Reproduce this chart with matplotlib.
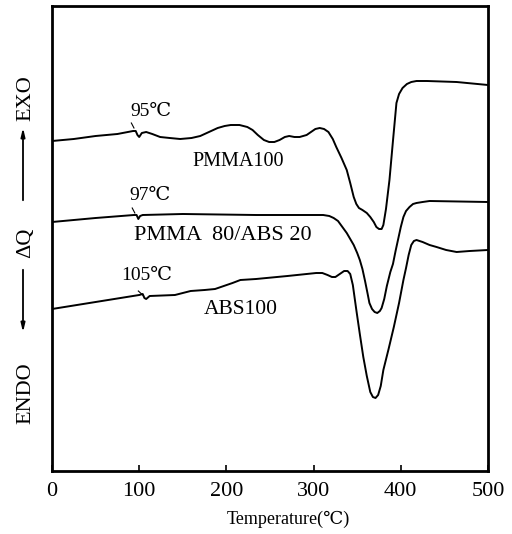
import matplotlib
matplotlib.use("Agg")
import matplotlib.pyplot as plt

plt.rcParams['font.family'] = ['Liberation Serif', 'DejaVu Serif', 'DejaVu Sans']

# heat flow traces (arbitrary units)
pmma_t = [0, 25, 50, 75, 93, 96, 98, 100, 103, 108, 115, 124, 135, 147, 160, 170, 180,
          190, 198, 205, 215, 224, 230, 236, 243, 249, 255, 261, 267, 272, 278, 284,
          288, 292, 297, 302, 307, 312, 317, 322, 326, 332, 338, 342, 346, 349, 352,
          356, 361, 365, 369, 372, 375, 378, 380, 383, 387, 391, 395, 398, 402, 407,
          412, 418, 430, 464, 500]
pmma_q = [330, 332, 335, 337, 340, 340, 336, 334, 338, 339, 337, 334, 333, 332, 333, 335, 339,
          343, 345, 346, 346, 344, 341, 336, 331, 329, 329, 331, 334, 335, 334, 334,
          335, 336, 339, 342, 343, 342, 339, 332, 324, 313, 301, 288, 274, 267, 263,
          261, 258, 254, 249, 244, 242, 242, 246, 262, 291, 330, 368, 377, 383, 387,
          389, 390, 390, 389, 386]

blend_t = [0, 50, 94, 97, 99, 101, 104, 150, 234, 300, 311, 318, 323, 328, 333, 338,
           342, 346, 350, 353, 356, 359, 362, 364, 367, 370, 373, 376, 378, 381, 384,
           388, 391, 394, 397, 400, 403, 406, 410, 414, 418, 425, 433, 500]
blend_q = [249, 253, 256, 256, 252, 255, 256, 257, 256, 256, 256, 255, 253, 250, 244, 238,
           232, 226, 218, 211, 202, 190, 177, 168, 162, 159, 158, 160, 163, 172, 185,
           199, 207, 220, 232, 244, 254, 260, 264, 267, 268, 269, 270, 269]

abs_t = [0, 50, 100, 104, 106, 108, 112, 141, 150, 159, 175, 187, 197, 207, 216, 234,
         270, 303, 310, 316, 321, 325, 330, 335, 339, 342, 345, 349, 353, 357, 361,
         365, 368, 371, 374, 377, 380, 386, 392, 398, 403, 406, 409, 412, 415, 418,
         425, 433, 441, 452, 464, 479, 500]
abs_q = [162, 169, 176, 177, 173, 172, 175, 176, 178, 180, 181, 182, 185, 188, 191, 192,
         195, 198, 198, 196, 194, 194, 197, 200, 200, 197, 186, 161, 137, 114, 95,
         79, 74, 73, 76, 85, 101, 122, 144, 168, 191, 203, 216, 226, 230, 231,
         229, 226, 224, 221, 219, 220, 221]

xticks = [0, 100, 200, 300, 400, 500]

fig = plt.figure(figsize=(5.12, 5.34), dpi=100)
ax = fig.add_axes([52 / 512, 63 / 534, 436 / 512, 465 / 534])

for t, q in [(pmma_t, pmma_q), (blend_t, blend_q), (abs_t, abs_q)]:
    ax.plot(t, q, color='black', lw=1.4, solid_capstyle='round', solid_joinstyle='round')

ax.set_xlim(0, 500)
ax.set_ylim(0, 465)
ax.set_xticks(xticks)
ax.set_yticks([])
ax.tick_params(axis='x', direction='in', length=4, width=1.2, pad=8, labelsize=16)
for s in ax.spines.values():
    s.set_linewidth(2)

# glass transition marks
ax.text(113, 359, '95℃', fontsize=14, ha='center', va='center')
ax.plot([91, 94], [348, 343], color='black', lw=0.8)
ax.text(113, 275, '97℃', fontsize=14, ha='center', va='center')
ax.plot([92, 95], [263, 258], color='black', lw=0.8)
ax.text(109, 195, '105℃', fontsize=14, ha='center', va='center')
ax.plot([99, 104], [180, 176], color='black', lw=0.8)

# curve names
ax.text(213, 310, 'PMMA100', fontsize=14.5, ha='center', va='center')
ax.text(196, 236, 'PMMA  80/ABS 20', fontsize=16, ha='center', va='center')
ax.text(216, 161, 'ABS100', fontsize=15.5, ha='center', va='center')

ax.text(0.541, -0.103, 'Temperature(℃)', transform=ax.transAxes, fontsize=13,
        ha='center', va='center')

# y axis description
fig.text(26 / 512, 1 - 98 / 534, 'EXO', rotation=90, fontsize=16, ha='center', va='center')
fig.text(26 / 512, 1 - 243 / 534, 'ΔQ', rotation=90, fontsize=16, ha='center', va='center')
fig.text(26 / 512, 1 - 393 / 534, 'ENDO', rotation=90, fontsize=16, ha='center', va='center')
arrow = dict(arrowstyle='-|>,head_length=0.5,head_width=0.12', color='black', lw=1.3)
ax.annotate('', xy=(23, 534 - 125), xytext=(23, 534 - 203), xycoords='figure pixels',
            textcoords='figure pixels', arrowprops=arrow)
ax.annotate('', xy=(23, 534 - 335), xytext=(23, 534 - 267), xycoords='figure pixels',
            textcoords='figure pixels', arrowprops=arrow)

fig.savefig('out.png', dpi=100)
